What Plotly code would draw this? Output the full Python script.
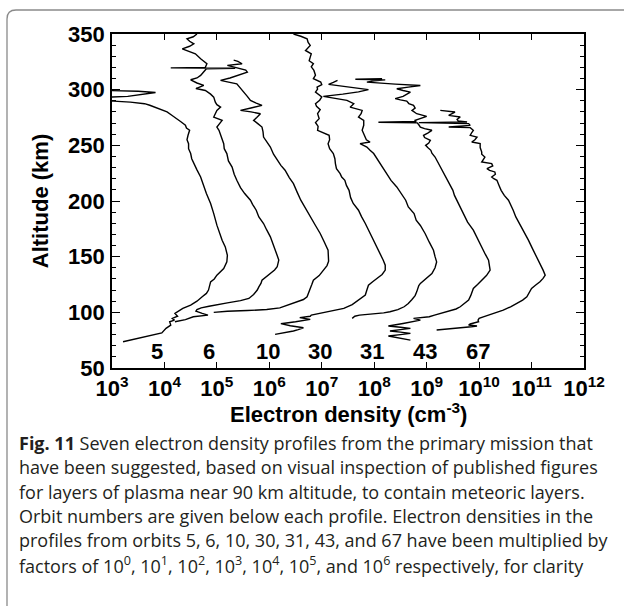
import plotly.graph_objects as go

# Orbit numbers and the power of ten each profile was multiplied by
orbits = [5, 6, 10, 30, 31, 43, 67]
scale_exp = [0, 1, 2, 3, 4, 5, 6]

# Profiles: (altitude km, log10 electron density cm^-3), unscaled, bottom to top
profile_5 = [
    (73.6, 3.21), (78, 3.62), (81.5, 3.95), (85.6, 4.03), (88.5, 4.12), (91.5, 4.10),
    (93, 4.19), (94.6, 4.15), (96.5, 4.25), (99, 4.20), (101.5, 4.28), (103.5, 4.35),
    (106.5, 4.50), (110, 4.62), (114, 4.72), (117, 4.80), (120, 4.84), (124, 4.86),
    (127.4, 4.88), (130, 4.95), (133.4, 5.00), (139.4, 5.13), (145.3, 5.19), (151.3, 5.20),
    (158.8, 5.16), (164.8, 5.10), (171, 5.05), (178.3, 5.00), (188.7, 4.94), (197.7, 4.88),
    (206.7, 4.80), (214, 4.74), (221.6, 4.69), (228, 4.62), (233.6, 4.56), (238, 4.52),
    (242.6, 4.50), (247, 4.46), (251.5, 4.46), (255, 4.43), (259, 4.45), (263.5, 4.48),
    (265.5, 4.42), (268, 4.40), (271, 4.32), (274, 4.24), (277, 4.14), (280, 4.05),
    (283.8, 3.86), (286, 3.72), (287.4, 3.62), (288.8, 3.35), (289.7, 3.03), (290.6, 2.6),
    (292.6, 2.6), (294, 3.3), (297.5, 3.83), (298.6, 3.5), (299.6, 2.6),
]
profile_6 = [
    (91.5, 3.20), (93.5, 3.40), (96, 3.55), (97.5, 3.83), (99, 3.72), (101, 3.60),
    (102.5, 3.62), (104, 3.70), (105.5, 3.85), (107, 4.00), (108.5, 4.20), (110.5, 4.45),
    (112.5, 4.61), (116, 4.70), (120, 4.77), (122.9, 4.80), (126, 4.84), (128.9, 4.86),
    (132, 4.95), (134.9, 5.02), (138, 5.10), (140.9, 5.15), (146.9, 5.18), (151, 5.15),
    (155.8, 5.11), (161, 5.07), (167.8, 5.02), (174, 4.95), (179.8, 4.89), (185.7, 4.80),
    (191.7, 4.75), (197, 4.68), (200.7, 4.64), (206.7, 4.53), (212, 4.45), (218.6, 4.38),
    (224, 4.33), (230.5, 4.29), (236, 4.22), (242.6, 4.19), (247, 4.14), (251.5, 4.13),
    (256, 4.10), (260.5, 4.07), (263.5, 4.04), (266.4, 4.00), (269.5, 4.06), (272.4, 4.10),
    (275.4, 3.94), (278, 3.97), (281.4, 4.00), (284.3, 4.07), (286.5, 4.00), (288.8, 3.97),
    (293.3, 3.94), (296, 3.88), (299.3, 3.78), (301, 3.60), (303.8, 3.75), (306, 3.62),
    (308.9, 3.50), (310.5, 3.62), (312.8, 3.69), (315, 3.73), (317.3, 3.78), (318.8, 3.80),
    (319.3, 4.35), (319.6, 3.12), (320, 3.78), (323.3, 3.81), (325.5, 3.74), (327.8, 3.69),
    (332.2, 3.59), (334.5, 3.45), (336.7, 3.34), (339, 3.48), (341.2, 3.56), (343.5, 3.48),
    (345.7, 3.43), (347.5, 3.55), (350, 3.62),
]
profile_10 = [
    (100, 2.94), (101, 3.20), (101.6, 3.58), (102.5, 3.95), (104, 4.20), (106.5, 4.34),
    (109, 4.52), (111.5, 4.65), (114, 4.72), (118, 4.76), (121.5, 4.78), (125, 4.81),
    (128.9, 4.84), (133, 4.95), (137.9, 5.03), (142, 5.10), (146, 5.13), (150, 5.13),
    (155.8, 5.12), (163, 5.05), (170.8, 4.97), (178, 4.88), (185.7, 4.78), (193, 4.70),
    (200.7, 4.60), (208, 4.53), (215.6, 4.46), (221, 4.38), (227.6, 4.30), (232, 4.22),
    (236.5, 4.15), (242, 4.08), (248.5, 4.02), (253, 3.95), (257.4, 3.89), (262, 3.88),
    (266.4, 3.86), (269.5, 3.78), (272.4, 3.70), (275, 3.76), (278.4, 3.83), (280, 3.65),
    (281.4, 3.45), (283.5, 3.65), (285.9, 3.86), (288, 3.75), (290.4, 3.64), (294, 3.58),
    (297.8, 3.51), (301.5, 3.45), (305.3, 3.38), (307, 3.20), (308.3, 3.07), (310.5, 3.25),
    (313, 3.42), (315.7, 3.58), (317.5, 3.55), (320, 3.35), (321.8, 3.20), (323.3, 3.48),
    (325.5, 3.40), (326.5, 3.32),
]
profile_30 = [
    (80.2, 3.11), (81.5, 3.30), (83.2, 3.46), (84.5, 3.55), (86.1, 3.65), (88, 3.40),
    (89.8, 3.22), (91.5, 3.50), (93.7, 3.78), (95.2, 3.58), (96.5, 3.78), (97.5, 3.80),
    (99, 3.97), (101, 4.20), (103.5, 4.42), (107, 4.58), (111, 4.70), (115.5, 4.83),
    (120, 4.86), (124.4, 4.89), (127.5, 4.97), (130.4, 5.05), (134, 5.15), (137.9, 5.21),
    (142.4, 5.21), (147, 5.17), (152.9, 5.11), (160, 5.03), (167.8, 4.96), (174, 4.90),
    (179.8, 4.83), (185.7, 4.76), (191.7, 4.70), (197.8, 4.60), (203, 4.55), (209.6, 4.52),
    (214, 4.47), (218.6, 4.44), (221.5, 4.38), (224.6, 4.35), (229, 4.28), (233.6, 4.26),
    (238, 4.25), (242.6, 4.22), (247, 4.15), (251.5, 4.12), (255, 4.15), (259, 4.14),
    (261.5, 4.00), (263.5, 3.92), (267, 3.93), (270.5, 3.88), (274, 3.95), (278.4, 3.92),
    (282, 3.97), (285, 3.90), (287.4, 3.88), (290.5, 3.96), (293.5, 4.00), (295.5, 3.95),
    (297.8, 3.88), (300.5, 3.92), (302.3, 3.91), (304.5, 4.00), (306.8, 3.98), (309.8, 3.84),
    (313, 3.88), (317.3, 3.85), (320.5, 3.80), (323.3, 3.84), (326, 3.76), (329.2, 3.78),
    (332.2, 3.80), (335.2, 3.69), (337.5, 3.74), (339.7, 3.78), (342.5, 3.74), (345.7, 3.72),
    (348, 3.60), (350, 3.46),
]
profile_31 = [
    (94.6, 3.58), (96.5, 3.63), (97.5, 3.72), (98.5, 4.00), (99.5, 4.18), (100.5, 4.30),
    (102.5, 4.45), (105, 4.57), (108, 4.65), (111.5, 4.72), (115, 4.78), (118.4, 4.81),
    (121.5, 4.83), (124, 4.85), (126, 4.88), (130, 4.98), (134.9, 5.10), (140, 5.16),
    (145.3, 5.19), (150, 5.16), (155.8, 5.13), (163, 5.05), (170.8, 4.97), (178, 4.88),
    (182.7, 4.80), (188.7, 4.76), (194.7, 4.65), (200.7, 4.60), (206, 4.52), (212.6, 4.43),
    (218.5, 4.32), (224.6, 4.24), (229, 4.17), (233.6, 4.11), (238, 4.05), (242.6, 3.99),
    (245.5, 3.92), (248.5, 3.86), (251.5, 3.73), (253, 3.92), (255, 3.85), (257.4, 3.83),
    (260.5, 3.80), (263.5, 3.77), (268, 3.80), (272.4, 3.80), (275.4, 3.70), (278.5, 3.75),
    (281.4, 3.77), (284.3, 3.54), (286, 3.58), (287.4, 3.61), (290.4, 3.48), (292, 3.25),
    (294, 3.03), (296, 3.40), (298, 3.70), (300, 3.89), (302, 3.60), (303.5, 3.35),
    (304.7, 3.13), (306.5, 3.22), (308.3, 3.30),
]
profile_43 = [
    (75, 3.69), (77, 3.45), (78.7, 3.27), (80, 3.50), (81.1, 3.69), (82.2, 3.50),
    (83.2, 3.30), (84.5, 3.50), (85.6, 3.69), (86.6, 3.50), (87.7, 3.27), (90, 3.55),
    (93, 3.88), (94.6, 3.75), (96, 4.05), (97.5, 4.15), (99, 4.26), (101, 4.45),
    (103, 4.56), (105, 4.64), (108, 4.73), (111, 4.80), (115, 4.84), (118, 4.86),
    (121.5, 4.89), (125, 4.97), (128.9, 5.05), (133, 5.14), (137.9, 5.21), (142, 5.20),
    (146.9, 5.18), (152, 5.12), (158.8, 5.05), (166, 4.97), (173.8, 4.89), (181, 4.78),
    (188.7, 4.70), (195, 4.63), (200.7, 4.58), (205, 4.53), (209.6, 4.50), (214, 4.45),
    (218.6, 4.40), (223, 4.35), (227.6, 4.30), (233.6, 4.24), (239.5, 4.16), (243, 4.10),
    (245.5, 4.08), (248, 4.02), (250, 3.98), (252, 4.04), (254.5, 4.07), (257, 3.96),
    (259, 3.94), (261, 4.02), (263.5, 4.10), (265, 3.96), (266.4, 3.88), (268.5, 3.85),
    (270.2, 3.82), (270.8, 3.08), (271.4, 3.80), (272.4, 3.78), (274, 3.90), (276, 4.00),
    (278.4, 3.81), (281.4, 3.72), (283.5, 3.78), (285.9, 3.75), (287.5, 3.66), (289.7, 3.62),
    (290.8, 3.50), (291.9, 3.40), (294, 3.55), (296, 3.62), (297.8, 3.69), (299.3, 3.55),
    (300.8, 3.43), (302.3, 3.65), (303.8, 3.88), (305, 3.40), (306.8, 2.86), (308, 3.00),
    (308.8, 3.21), (309.4, 2.64), (309.9, 3.15),
]
profile_67 = [
    (84.1, 3.19), (85.2, 3.50), (86.2, 3.70), (87, 3.85), (87.7, 3.96), (88.6, 3.80),
    (89.5, 3.83), (90.5, 3.95), (91.5, 3.99), (93, 3.98), (94.6, 4.00), (96, 4.08),
    (99, 4.28), (102, 4.46), (105, 4.60), (108, 4.72), (111, 4.83), (114, 4.91),
    (117.5, 4.95), (121.5, 5.00), (124.5, 5.08), (127.4, 5.16), (130.5, 5.22), (133.4, 5.26),
    (137.9, 5.22), (143, 5.17), (149.8, 5.10), (157, 5.02), (164.8, 4.94), (172, 4.86),
    (179.8, 4.78), (185.7, 4.70), (191.7, 4.65), (196, 4.60), (200.7, 4.56), (205, 4.48),
    (209.6, 4.42), (214, 4.38), (218.6, 4.34), (220, 4.28), (221.6, 4.24), (224, 4.31),
    (226.1, 4.30), (227.5, 4.20), (229.1, 4.15), (231.5, 4.26), (233.6, 4.24), (235, 4.05),
    (237, 4.08), (239.5, 4.11), (242, 4.05), (244, 4.05), (248, 4.02), (251.5, 4.02),
    (253, 3.86), (255, 3.92), (257.4, 3.96), (259, 3.83), (261.5, 3.86), (263.5, 3.89),
    (265.9, 3.83), (266.4, 3.42), (267.9, 3.83), (269.5, 3.80), (270.4, 2.85), (270.9, 3.77),
    (272, 3.60), (273.3, 3.58), (275.4, 3.64), (276.9, 3.42), (279.9, 3.54), (281.4, 3.26),
]
profiles = [profile_5, profile_6, profile_10, profile_30, profile_31, profile_43, profile_67]

# Decade tick labels on the density axis
x_exponents = list(range(3, 13))
x_ticklabels = [f"10<sup>{e}</sup>" for e in x_exponents]

x_title = "Electron density (cm<sup>-3</sup>)"
y_title = "Altitude (km)"

caption_lines = [
    "<b>Fig. 11</b> Seven electron density profiles from the primary mission that",
    "have been suggested, based on visual inspection of published figures",
    "for layers of plasma near 90 km altitude, to contain meteoric layers.",
    "Orbit numbers are given below each profile. Electron densities in the",
    "profiles from orbits 5, 6, 10, 30, 31, 43, and 67 have been multiplied by",
    "factors of 10<sup>0</sup>, 10<sup>1</sup>, 10<sup>2</sup>, 10<sup>3</sup>, "
    "10<sup>4</sup>, 10<sup>5</sup>, and 10<sup>6</sup> respectively, for clarity",
]

# ---- layout geometry (pixels) ----
W, H = 624, 606
ML, MR, MT, MB = 112, 40, 34, 238
PW, PH = W - ML - MR, H - MT - MB


def paper_x(px):
    return (px - ML) / PW


def paper_y(py):
    return (H - MB - py) / PH


# orbit label placement under each profile (log10 x, altitude)
label_logx = [3.85, 4.84, 5.98, 6.97, 7.96, 8.97, 9.97]
label_alt = 65

BOLD = dict(family="Liberation Sans, Arial, sans-serif", size=22, color="black", weight="bold")

fig = go.Figure()
for k, prof in zip(scale_exp, profiles):
    alt = [p[0] for p in prof]
    ne = [10 ** (p[1] + k) for p in prof]
    fig.add_trace(go.Scatter(
        x=ne, y=alt, mode="lines",
        line=dict(color="black", width=1.4),
        showlegend=False, hoverinfo="skip",
    ))

annotations = []
for orb, lx in zip(orbits, label_logx):
    annotations.append(dict(
        x=lx, y=label_alt, xref="x", yref="y", text=str(orb), showarrow=False,
        font=BOLD, xanchor="center", yanchor="middle",
    ))

# density axis title, placed under the decade labels
annotations.append(dict(
    x=0.5, y=paper_y(413), xref="paper", yref="paper", text=x_title,
    showarrow=False, font=BOLD, xanchor="center", yanchor="middle",
))

cap_font = dict(family="Open Sans, sans-serif", size=18, color="#231f20")
cap_top, cap_step = 443, 24.3
for i, line in enumerate(caption_lines):
    annotations.append(dict(
        x=paper_x(17), y=paper_y(cap_top + i * cap_step), xref="paper", yref="paper",
        text=line, showarrow=False, font=cap_font, xanchor="left", yanchor="middle",
        align="left",
    ))

# frame around the figure and caption, rounded at the top-left corner
bx0, by0, bx1, by1, r = 7, 10, 640, 640, 9
frame_path = (
    f"M {paper_x(bx0)},{paper_y(by1)} "
    f"L {paper_x(bx0)},{paper_y(by0 + r)} "
    f"Q {paper_x(bx0)},{paper_y(by0)} {paper_x(bx0 + r)},{paper_y(by0)} "
    f"L {paper_x(bx1)},{paper_y(by0)}"
)

fig.update_layout(
    width=W, height=H,
    margin=dict(l=ML, r=MR, t=MT, b=MB),
    paper_bgcolor="white", plot_bgcolor="white",
    annotations=annotations,
    shapes=[dict(type="path", path=frame_path, xref="paper", yref="paper",
                 line=dict(color="#8a8a8a", width=1.3), layer="below")],
)

fig.update_xaxes(
    type="log", range=[3, 12],
    tickvals=[10 ** e for e in x_exponents], ticktext=x_ticklabels,
    ticks="inside", ticklen=6, tickwidth=1.4, tickcolor="black",
    showline=True, linecolor="black", linewidth=1.6, mirror="allticks",
    showgrid=False, zeroline=False, tickfont=BOLD, ticklabelstandoff=0,
)
fig.update_yaxes(
    range=[50, 350], tick0=50, dtick=50,
    ticks="inside", ticklen=8, tickwidth=1.4, tickcolor="black",
    minor=dict(dtick=10, ticks="inside", ticklen=4, tickwidth=1.2, tickcolor="black"),
    showline=True, linecolor="black", linewidth=1.6, mirror="allticks",
    showgrid=False, zeroline=False, tickfont=BOLD, ticklabelstandoff=1,
    title=dict(text=y_title, font=BOLD, standoff=13),
)

fig.write_html("out.html")
